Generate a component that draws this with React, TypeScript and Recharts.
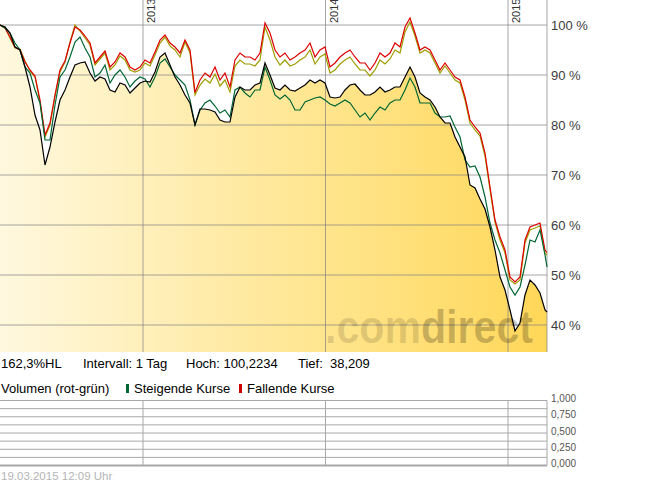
import React from 'react';
import { ComposedChart, Area, Line, XAxis, YAxis, ReferenceLine } from 'recharts';

const FONT = '"Liberation Sans", Arial, Helvetica, sans-serif';

// day offsets from 2012-03-21
const days = [
  0, 10, 20, 30, 40, 50, 60, 70, 80, 90,
  100, 110, 120, 130, 140, 150, 160, 170, 180, 190,
  200, 210, 220, 230, 240, 250, 260, 270, 280, 290,
  300, 310, 320, 330, 340, 350, 360, 370, 380, 390,
  400, 410, 420, 430, 440, 450, 460, 470, 480, 490,
  500, 510, 520, 530, 540, 550, 560, 570, 580, 590,
  600, 610, 620, 630, 640, 650, 660, 670, 680, 690,
  700, 710, 720, 730, 740, 750, 760, 770, 780, 790,
  800, 810, 820, 830, 840, 850, 860, 870, 880, 890,
  900, 910, 920, 930, 940, 950, 960, 970, 980, 990,
  1000, 1010, 1020, 1030, 1040, 1050, 1060, 1070, 1080, 1090,
  1094,
];

const kursSchwarz = [
  100, 99.6, 98.4, 95.6, 95, 91.6, 87.6, 82, 79, 72,
  75.6, 80.6, 85, 87, 89.6, 92, 92.4, 92.6, 90.4, 88.8,
  89.6, 89.2, 87, 86.6, 88.4, 88, 86.4, 87.4, 88.4, 88.8,
  88.6, 90.6, 93.6, 94.4, 92, 89.6, 88, 86, 84.4, 80,
  83.2, 83.2, 83, 82.6, 81, 80.6, 80.6, 85.6, 87.6, 87,
  87, 88, 88.4, 92.4, 90, 87.4, 87, 88, 87, 86.8,
  87.4, 88, 89, 88.4, 89, 88.4, 85.6, 85.4, 85.6, 87,
  88, 88.2, 87, 86, 86, 86.6, 87.6, 86.6, 87, 87.6,
  87.6, 89.6, 91.6, 89.6, 86.4, 85.6, 85, 83.6, 81.6, 80.4,
  80.4, 77.6, 75.6, 73.6, 68, 67.4, 65.2, 63.2, 59.6, 55,
  49.6, 47, 43, 38.8, 40.4, 46, 49, 48, 46.4, 43,
  42.6,
];

const kursRot = [
  100, 99.4, 97.6, 95.6, 95, 92.6, 91, 89.8, 85, 78,
  80.4, 86, 91, 92.8, 96.4, 99.6, 99, 97.8, 96.4, 92.4,
  93.6, 94.8, 91.6, 92.6, 94.4, 93.6, 91.6, 91, 91.6, 93,
  92.4, 94.6, 97, 98, 96.4, 95.6, 94.4, 97, 95, 86.5,
  89, 90.4, 89.6, 91.6, 89, 90.4, 87.6, 93, 94.4, 93.6,
  93.6, 93, 94.4, 100.4, 98.4, 95, 93.6, 94.4, 93, 93.6,
  94.4, 95, 96.4, 93.6, 95, 95.6, 91.6, 92.4, 93.6, 94.4,
  95, 93.6, 92.4, 92.4, 91, 92.4, 94.4, 93.6, 94.4, 96.4,
  95.6, 99.6, 101.4, 98.4, 95, 95.6, 95, 93, 91, 92.4,
  91, 89.6, 89, 85.6, 81, 79.6, 78.4, 74.4, 67.6, 61,
  57.6, 55, 49.6, 48.6, 49.6, 57, 59.6, 60, 60.4, 55,
  54.5,
];

const kursOliv = [
  100, 99.6, 97.4, 95.4, 95.2, 92.8, 90.8, 89.6, 84.6, 77.6,
  80, 85.8, 90.6, 92.6, 96.6, 100, 98.8, 97.4, 96, 92,
  93.2, 94.4, 91, 92, 93.8, 93, 91, 90.6, 91, 92.4,
  91.8, 94, 96.4, 97.6, 95.8, 95, 93.6, 96.6, 94.4, 86,
  88, 89.2, 88.4, 90.2, 87.8, 89, 86.6, 91.8, 93, 92.2,
  92.2, 91.8, 93, 99.6, 97, 93.6, 92, 93, 91.8, 92.2,
  93, 93.6, 95, 92.2, 93.6, 94.2, 90.4, 91, 92.2, 93,
  93.6, 92.2, 91, 91, 89.8, 91, 93, 92.2, 93.2, 95,
  94.4, 98.6, 100.6, 97.8, 94.4, 95, 94.4, 92.4, 90.4, 91.8,
  90.4, 89, 88.4, 85, 80.4, 79, 77.8, 73.8, 67, 60.6,
  57, 54.4, 49, 48.2, 49, 56.4, 59, 59.4, 59.8, 54.4,
  54,
];

const kursGruen = [
  100, 99.4, 98.4, 96.4, 95, 91.6, 90.4, 87, 84.4, 77,
  77, 84, 89.6, 91, 93.6, 96.6, 97.6, 95.4, 93.6, 89.6,
  90.4, 92, 88.4, 90, 91, 89.6, 87.6, 88.8, 89.6, 89.2,
  87.6, 89.6, 92.4, 93.2, 91.6, 90, 89, 88, 85, 80,
  83, 84.4, 85, 83.8, 82.4, 83, 81.6, 87, 87.6, 86.4,
  85.6, 87, 87, 91.6, 89, 86, 85.2, 86, 85, 83,
  83, 84.6, 85, 85.4, 85.6, 85, 84.2, 83.8, 84.4, 85,
  84.4, 83, 81.6, 82.4, 81, 82.4, 83.6, 83, 84.4, 85,
  85, 87, 89.4, 87.6, 84.4, 84.4, 84.4, 82.4, 81.6, 81.6,
  81.8, 79.6, 77.6, 73, 71.6, 71.8, 69.6, 65.6, 60.4, 57,
  54.4, 51, 47.6, 46, 47.6, 52, 57, 56.6, 59, 54,
  51.6,
];

const volumen = days.map(() => 0);

const yearLabels = ['2013', '2014', '2015'];
const yearDays = [286, 651, 1016];
const pctTicks = [40, 50, 60, 70, 80, 90, 100];
const volTicks = [0, 0.25, 0.5, 0.75, 1];
const volGrid = [0, 0.125, 0.25, 0.375, 0.5, 0.625, 0.75, 0.875, 1];

const infoRow = ['162,3%HL', 'Intervall: 1 Tag', 'Hoch: 100,2234', 'Tief:', '38,209'];
const legendRow = ['Volumen (rot-grün)', 'Steigende Kurse', 'Fallende Kurse'];
const timestamp = '19.03.2015 12:09 Uhr';

const data = days.map((d, i) => ({
  d,
  black: kursSchwarz[i],
  red: kursRot[i],
  olive: kursOliv[i],
  green: kursGruen[i],
  vol: volumen[i],
}));

const YearLabel = (props: any) => {
  const vb = props.viewBox || {};
  return (
    <text
      transform={`translate(${(vb.x || 0) + 12}, 23) rotate(-90)`}
      fontSize={11}
      fill="#333"
      fontFamily={FONT}
    >
      {props.year}
    </text>
  );
};

const GRID = '#808080';

export default function App() {
  return (
    <div style={{ position: 'absolute', left: 0, top: 0, width: 645, height: 483, background: '#fff' }}>
      <div style={{ position: 'absolute', left: 0, top: 0 }}>
        <ComposedChart width={645} height={352} data={data} margin={{ top: 0, right: 0, bottom: 0, left: 0 }}>
          <defs>
            <linearGradient id="gold" x1="0" y1="0" x2="1" y2="0">
              <stop offset="0" stopColor="#fff8df" />
              <stop offset="0.5" stopColor="#ffe89a" />
              <stop offset="1" stopColor="#ffd758" />
            </linearGradient>
          </defs>
          <XAxis dataKey="d" type="number" domain={[0, 1094]} hide />
          <YAxis
            orientation="right"
            domain={[34.6, 105]}
            ticks={pctTicks}
            width={98}
            axisLine={false}
            tickLine={false}
            tickSize={4}
            tickMargin={0}
            interval={0}
            tick={{ fill: '#3c3c3c', fontSize: 13, fontFamily: FONT }}
            tickFormatter={(v: number) => `${v} %`}
          />
          <Area
            dataKey="black"
            type="linear"
            stroke="none"
            fill="url(#gold)"
            fillOpacity={1}
            dot={false}
            activeDot={false}
            isAnimationActive={false}
          />
          {pctTicks.map((t) => (
            <ReferenceLine key={'h' + t} y={t} stroke={GRID} strokeOpacity={0.7} />
          ))}
          {yearDays.map((d, i) => (
            <ReferenceLine
              key={'v' + d}
              x={d}
              stroke={GRID}
              strokeOpacity={0.7}
              label={<YearLabel year={yearLabels[i]} />}
            />
          ))}
          <ReferenceLine x={1094} stroke={GRID} strokeOpacity={0.7} />
          <Line dataKey="olive" type="linear" stroke="#9e9e00" strokeWidth={1.2} dot={false} activeDot={false} isAnimationActive={false} />
          <Line dataKey="red" type="linear" stroke="#dd0000" strokeWidth={1.2} dot={false} activeDot={false} isAnimationActive={false} />
          <Line dataKey="green" type="linear" stroke="#006633" strokeWidth={1.2} dot={false} activeDot={false} isAnimationActive={false} />
          <Line dataKey="black" type="linear" stroke="#000000" strokeWidth={1.2} dot={false} activeDot={false} isAnimationActive={false} />
        </ComposedChart>
      </div>

      <div style={{ position: 'absolute', left: 0, top: 385 }}>
        <ComposedChart width={645} height={86} data={data} margin={{ top: 15.5, right: 0, bottom: 5.5, left: 0 }}>
          <XAxis dataKey="d" type="number" domain={[0, 1094]} hide />
          <YAxis
            orientation="right"
            domain={[0, 1]}
            ticks={volTicks}
            width={98}
            axisLine={false}
            tickLine={false}
            tickSize={4}
            tickMargin={0}
            interval={0}
            tick={{ fill: '#555', fontSize: 10, fontFamily: FONT, dy: -2 }}
            tickFormatter={(v: number) => v.toFixed(3).replace('.', ',')}
          />
          {volGrid.map((t) => (
            <ReferenceLine
              key={'vg' + t}
              y={t}
              stroke="#a8a8a8"
              strokeWidth={t === 0 ? 2 : 1}
            />
          ))}
          {yearDays.map((d) => (
            <ReferenceLine key={'vv' + d} x={d} stroke="#a8a8a8" />
          ))}
          <ReferenceLine x={1094} stroke="#a8a8a8" />
          <Line dataKey="vol" stroke="none" dot={false} activeDot={false} isAnimationActive={false} />
        </ComposedChart>
      </div>

      <svg
        width={645}
        height={483}
        style={{ position: 'absolute', left: 0, top: 0, pointerEvents: 'none' }}
        fontFamily={FONT}
      >
        <text x={325} y={343} fontSize={46} fontWeight="bold" textLength={208} lengthAdjust="spacingAndGlyphs">
          <tspan fill="#000" fillOpacity={0.13}>.com</tspan>
          <tspan fill="#000" fillOpacity={0.22}>direct</tspan>
        </text>

        <g fontSize={13} fill="#000">
          <text x={1} y={368}>{infoRow[0]}</text>
          <text x={83} y={368}>{infoRow[1]}</text>
          <text x={186} y={368}>{infoRow[2]}</text>
          <text x={298} y={368}>{infoRow[3]}</text>
          <text x={330} y={368}>{infoRow[4]}</text>

          <text x={1} y={393}>{legendRow[0]}</text>
          <rect x={126} y={384} width={3} height={9} fill="#006633" />
          <text x={134} y={393}>{legendRow[1]}</text>
          <rect x={239} y={384} width={3} height={9} fill="#cc0000" />
          <text x={247} y={393}>{legendRow[2]}</text>
        </g>

        <text x={1} y={480} fontSize={11.5} fill="#b4b4b4">{timestamp}</text>
      </svg>
    </div>
  );
}
